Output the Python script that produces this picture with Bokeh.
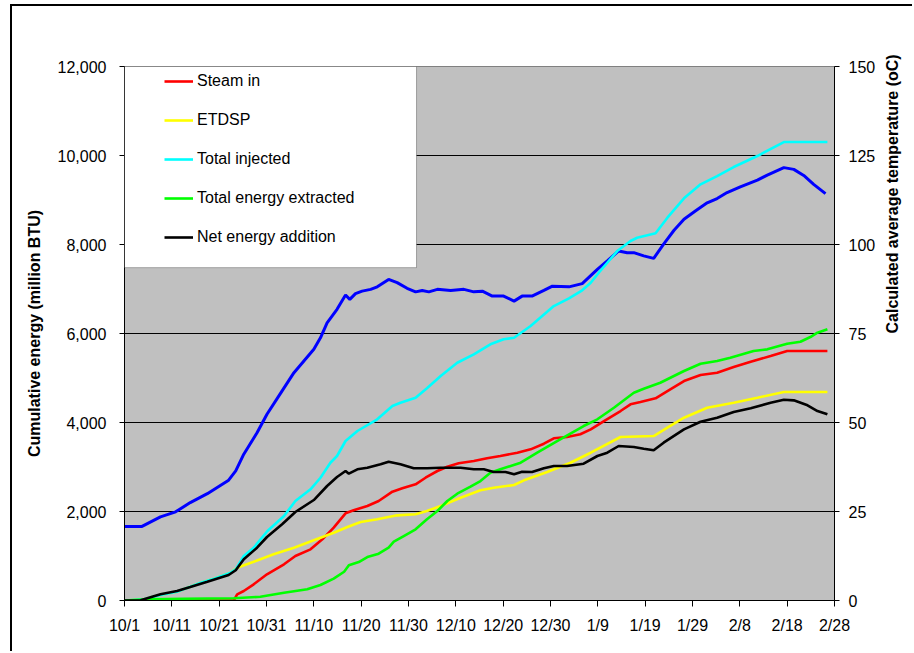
import math
from bokeh.plotting import figure
from bokeh.models import (Range1d, LinearAxis, FixedTicker, NumeralTickFormatter,
                          Legend, LegendItem, BoxAnnotation)
from bokeh.embed import file_html
from bokeh.resources import INLINE

# ---- x axis (days since 10/1) ----
tick_days = [0, 10, 20, 30, 40, 50, 60, 70, 80, 90, 100, 110, 120, 130, 140, 150]
tick_labels = ["10/1", "10/11", "10/21", "10/31", "11/10", "11/20", "11/30", "12/10",
               "12/20", "12/30", "1/9", "1/19", "1/29", "2/8", "2/18", "2/28"]
energy_ticks = [0, 2000, 4000, 6000, 8000, 10000, 12000]
temp_ticks = [0, 25, 50, 75, 100, 125, 150]

# ---- Steam in ----
steam_days = [0, 23.1, 23.8, 25.2, 27.3, 30.1, 33.7, 36.1, 39.3, 41.8,
              44.2, 46.7, 48.4, 51.3, 53.7, 56.6, 58.7, 61.5, 63.6, 66.1,
              68.2, 70.6, 73.8, 76.6, 79.4, 83.0, 85.8, 88.6, 90.7, 93.5,
              96.3, 98.5, 101.3, 104.8, 106.9, 109.0, 112.2, 114.7, 118.2, 121.7,
              125.2, 128.7, 132.3, 136.5, 140.0, 148.5]
steam_in = [0, 5, 139, 213, 364, 589, 813, 1000, 1150, 1375,
            1636, 1959, 2027, 2123, 2236, 2445, 2521, 2611, 2759, 2910,
            3006, 3083, 3135, 3195, 3247, 3321, 3397, 3523, 3645, 3674,
            3735, 3847, 4033, 4258, 4409, 4460, 4543, 4707, 4932, 5067,
            5119, 5247, 5366, 5494, 5606, 5606]

# ---- ETDSP ----
etdsp_days = [0, 4.1, 7.6, 11.1, 16.1, 18.9, 22.4, 23.8, 27.3, 31.5,
              35.8, 40.0, 44.2, 47.1, 49.9, 53.4, 57.6, 61.5, 63.9, 66.8,
              71.0, 75.2, 78.0, 82.3, 84.4, 89.3, 94.2, 98.5, 104.8, 111.8,
              114.7, 118.2, 123.1, 128.7, 133.7, 139.3, 148.5]
etdsp = [0, 27, 124, 198, 400, 490, 625, 737, 872, 1038,
         1186, 1353, 1523, 1652, 1764, 1825, 1914, 1937, 2011, 2123,
         2310, 2476, 2535, 2595, 2701, 2887, 3096, 3321, 3674, 3696,
         3883, 4108, 4332, 4445, 4557, 4685, 4685]

# ---- Total injected ----
inj_days = [0, 4.1, 7.6, 11.1, 16.1, 18.9, 22.4, 23.5, 25.2, 27.3,
            30.2, 33.7, 36.1, 39.3, 41.4, 43.5, 44.9, 46.7, 49.2, 53.4,
            56.6, 58.3, 61.5, 63.9, 66.8, 70.3, 73.8, 77.3, 80.1, 82.3,
            85.8, 90.7, 93.9, 96.7, 98.5, 100.2, 102.0, 104.1, 106.9, 108.3,
            112.2, 114.7, 118.2, 121.7, 125.2, 128.7, 133.7, 139.3, 148.5]
total_injected = [0, 27, 124, 198, 400, 490, 625, 701, 1000, 1186,
                  1562, 1899, 2236, 2499, 2759, 3096, 3247, 3584, 3809, 4072,
                  4370, 4445, 4557, 4768, 5045, 5343, 5532, 5757, 5869, 5905,
                  6168, 6617, 6790, 6970, 7141, 7366, 7590, 7853, 8078, 8152,
                  8251, 8602, 9037, 9352, 9538, 9741, 9988, 10302, 10302]

# ---- Total energy extracted ----
ext_days = [0, 5.5, 12.5, 23.1, 28.7, 33.7, 38.6, 41.4, 44.2, 46.4,
            47.4, 49.5, 51.3, 53.7, 55.8, 56.9, 59.0, 61.5, 63.9, 66.1,
            68.2, 70.3, 73.1, 75.2, 77.3, 79.4, 83.7, 87.2, 91.4, 97.0,
            99.9, 103.4, 107.6, 109.7, 113.2, 118.2, 121.7, 125.2, 128.0, 132.9,
            135.8, 140.0, 142.8, 144.9, 146.4, 148.5]
total_extracted = [0, 27, 40, 49, 85, 175, 252, 348, 490, 647,
                   791, 865, 977, 1052, 1186, 1321, 1449, 1600, 1825, 2011,
                   2236, 2400, 2557, 2685, 2872, 2948, 3096, 3321, 3584, 3921,
                   4072, 4332, 4669, 4759, 4894, 5157, 5321, 5382, 5456, 5606,
                   5644, 5770, 5815, 5921, 6018, 6094]

# ---- Net energy addition ----
net_days = [0, 3.4, 7.6, 11.1, 13.9, 17.5, 22.0, 23.5, 25.2, 28.0,
            30.1, 33.3, 36.1, 40.0, 42.8, 44.9, 46.7, 47.4, 49.2, 51.3,
            54.1, 55.8, 58.3, 61.1, 63.9, 66.8, 71.0, 73.8, 75.9, 78.0,
            80.5, 82.3, 84.0, 86.1, 88.6, 90.7, 93.5, 97.0, 99.9, 102.0,
            104.4, 107.6, 109.7, 111.8, 113.9, 118.2, 121.7, 125.2, 128.7, 132.3,
            136.5, 139.3, 141.4, 144.3, 146.4, 148.5]
net_addition = [0, 5, 139, 213, 303, 422, 573, 679, 926, 1186,
                1427, 1712, 1989, 2258, 2573, 2775, 2910, 2849, 2948, 2984,
                3060, 3119, 3060, 2971, 2971, 2984, 2984, 2948, 2948, 2887,
                2887, 2836, 2894, 2887, 2971, 3022, 3022, 3074, 3247, 3321,
                3472, 3449, 3411, 3375, 3546, 3847, 4018, 4108, 4236, 4319,
                4445, 4512, 4498, 4386, 4258, 4184]

# ---- Calculated average temperature (right axis) ----
temp_days = [0, 3.7, 7.6, 10.8, 13.9, 17.5, 22.0, 23.5, 25.2, 28.0,
             30.1, 33.3, 35.8, 37.9, 40.0, 41.4, 42.8, 44.9, 46.7, 47.6,
             48.8, 50.2, 52.0, 53.4, 55.8, 57.6, 59.7, 61.5, 62.9, 64.3,
             66.1, 68.9, 71.7, 73.8, 75.6, 77.7, 80.1, 82.3, 84.0, 86.1,
             88.6, 90.4, 93.9, 96.7, 99.9, 102.0, 104.4, 106.2, 107.6, 109.7,
             111.8, 113.9, 116.1, 118.2, 120.6, 123.1, 125.2, 127.3, 130.1, 133.7,
             135.8, 139.3, 141.4, 143.5, 145.6, 148.1]
avg_temp = [20.8, 20.8, 23.5, 24.9, 27.5, 30.0, 33.8, 36.4, 41.1, 47.1,
            52.3, 58.9, 64.0, 67.3, 70.6, 73.8, 78.0, 81.8, 85.8, 84.6,
            86.2, 86.9, 87.4, 88.1, 90.2, 89.3, 87.7, 86.7, 87.1, 86.7,
            87.4, 87.1, 87.4, 86.7, 86.9, 85.5, 85.5, 84.1, 85.5, 85.5,
            87.1, 88.3, 88.1, 89.0, 93.0, 95.4, 98.2, 97.7, 97.7, 96.8,
            96.1, 100.1, 104.0, 107.1, 109.4, 111.7, 112.9, 114.6, 116.2, 118.1,
            119.5, 121.6, 121.1, 119.4, 116.9, 114.3]

FONT = "Liberation Sans"
RIGHT_TITLE = "Calculated average temperature (oC)"

p = figure(width=902, height=647, output_backend="svg", toolbar_location=None,
           x_range=Range1d(0, 150), y_range=Range1d(0, 12000),
           min_border_left=112, min_border_right=80, min_border_top=60, min_border_bottom=53)
p.styles = {"margin-left": "10px", "margin-top": "4px",
            "border-left": "2px solid black", "border-top": "2px solid black"}
p.extra_y_ranges = {"temp": Range1d(0, 150)}
p.background_fill_color = "#C0C0C0"
p.border_fill_color = "white"
p.outline_line_color = "#808080"
p.outline_line_width = 1
p.xgrid.visible = False
p.ygrid.grid_line_color = "black"
p.ygrid.grid_line_width = 1

# x axis
xa = p.xaxis[0]
xa.ticker = FixedTicker(ticks=tick_days)
xa.major_label_overrides = {d: l for d, l in zip(tick_days, tick_labels)}
xa.major_tick_out = 6
xa.major_tick_in = 0
xa.minor_tick_out = 0
xa.minor_tick_in = 0
xa.major_label_text_font = "Liberation Sans Narrow, Liberation Sans"
xa.major_label_text_font_size = "16px"
xa.major_label_text_color = "black"
xa.major_label_standoff = 10
xa.axis_line_color = "black"
xa.major_tick_line_color = "black"

# left axis
ya = p.yaxis[0]
ya.ticker = FixedTicker(ticks=energy_ticks)
ya.formatter = NumeralTickFormatter(format="0,0")
ya.major_tick_out = 5
ya.major_tick_in = 0
ya.minor_tick_out = 0
ya.minor_tick_in = 0
ya.major_label_text_font = FONT
ya.major_label_text_font_size = "16px"
ya.major_label_text_color = "black"
ya.major_label_standoff = 13
ya.axis_label = "Cumulative energy (million BTU)"
ya.axis_label_text_font = FONT
ya.axis_label_text_font_size = "16px"
ya.axis_label_text_font_style = "bold"
ya.axis_label_text_color = "black"
ya.axis_label_standoff = 12
ya.axis_line_color = "black"

# right axis (ticks and labels)
ra = LinearAxis(y_range_name="temp", ticker=FixedTicker(ticks=temp_ticks))
ra.major_tick_out = 5
ra.major_tick_in = 0
ra.minor_tick_out = 0
ra.minor_tick_in = 0
ra.major_label_text_font = FONT
ra.major_label_text_font_size = "16px"
ra.major_label_text_color = "black"
ra.major_label_standoff = 9
ra.axis_line_color = "black"
p.add_layout(ra, "right")

# second right axis carrying only the title, reading bottom-to-top;
# its bounds start the title near the bottom so it sits centred like the original
title_axis = LinearAxis(y_range_name="temp", ticker=FixedTicker(ticks=[]),
                        bounds=(0, 48.8))
title_axis.axis_line_color = None
title_axis.major_tick_line_color = None
title_axis.minor_tick_line_color = None
title_axis.major_tick_out = 0
title_axis.major_tick_in = 0
title_axis.minor_tick_out = 0
title_axis.minor_tick_in = 0
title_axis.major_label_text_font_size = "0px"
title_axis.major_label_standoff = 0
title_axis.axis_label = RIGHT_TITLE
title_axis.axis_label_text_font = FONT
title_axis.axis_label_text_font_size = "16px"
title_axis.axis_label_text_font_style = "bold"
title_axis.axis_label_text_color = "black"
title_axis.axis_label_standoff = 14
if "axis_label_orientation" in title_axis.properties():
    title_axis.axis_label_orientation = math.pi / 2
p.add_layout(title_axis, "right")

LW = 2.6
r_temp = p.line(temp_days, avg_temp, y_range_name="temp", line_color="#0000FF", line_width=3)
r_steam = p.line(steam_days, steam_in, line_color="#FF0000", line_width=LW)
r_etdsp = p.line(etdsp_days, etdsp, line_color="#FFFF00", line_width=LW)
r_inj = p.line(inj_days, total_injected, line_color="#00FFFF", line_width=LW)
r_ext = p.line(ext_days, total_extracted, line_color="#00FF00", line_width=LW)
r_net = p.line(net_days, net_addition, line_color="#000000", line_width=LW)

# legend frame
legend_box = BoxAnnotation(left=0, right=61.7, top=12000, bottom=7480,
                           fill_color="white", fill_alpha=1.0,
                           line_color="black", line_width=1)
p.add_layout(legend_box)

legend = Legend(items=[
    LegendItem(label="Steam in", renderers=[r_steam]),
    LegendItem(label="ETDSP", renderers=[r_etdsp]),
    LegendItem(label="Total injected", renderers=[r_inj]),
    LegendItem(label="Total energy extracted", renderers=[r_ext]),
    LegendItem(label="Net energy addition", renderers=[r_net]),
], location=(40, 353), margin=0, padding=0, spacing=19,
    glyph_width=29, glyph_height=20, label_height=20, label_standoff=4,
    label_text_font=FONT, label_text_font_size="16px", label_text_color="black",
    background_fill_alpha=0, border_line_alpha=0)
p.add_layout(legend, "center")

open("out.html", "w").write(file_html(p, INLINE))
